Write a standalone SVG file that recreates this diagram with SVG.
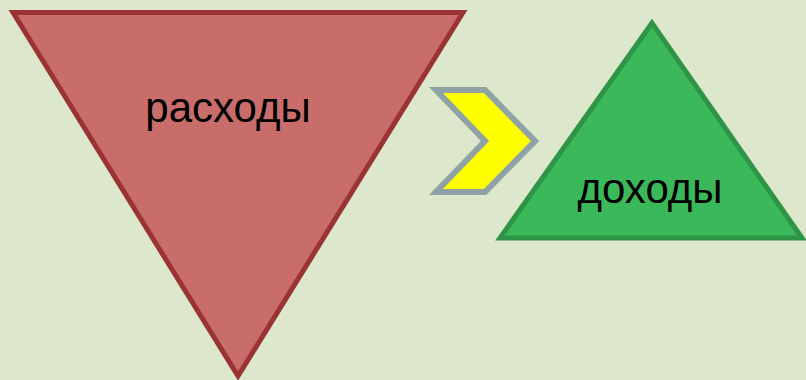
<svg xmlns="http://www.w3.org/2000/svg" width="806" height="380" viewBox="0 0 806 380">
<defs>
<radialGradient id="sh" cx="0.5" cy="0" r="0.5">
<stop offset="0" stop-color="#f4f4f4"/>
<stop offset="0.3" stop-color="#9a9e97"/>
<stop offset="0.7" stop-color="#b9c2ad" stop-opacity="0.6"/>
<stop offset="1" stop-color="#dce7cb" stop-opacity="0"/>
</radialGradient>
</defs>
<style>
.lbl{font-family:"Liberation Sans",Arial,sans-serif;font-size:42px;fill:#000;text-anchor:middle}
</style>
<rect width="806" height="380" fill="#dce7cb"/>
<ellipse cx="396" cy="-1" rx="26" ry="10" fill="url(#sh)"/>
<g id="expenses">
<polygon points="13,12.5 463,12.5 238,376" fill="#c96d6a" stroke="#9a3434" stroke-width="5"/>
<text class="lbl" x="228" y="122">расходы</text>
</g>
<g id="connectors">
<polygon points="436,90 485,90 535,141 485,192 436,192 485,141" fill="#ffff00" stroke="#8fa3a6" stroke-width="6"/>
</g>
<g id="income">
<polygon points="652,23 500,238 802,238" fill="#3bb95a" stroke="#2f9446" stroke-width="5"/>
<text class="lbl" x="650" y="203">доходы</text>
</g>
</svg>
